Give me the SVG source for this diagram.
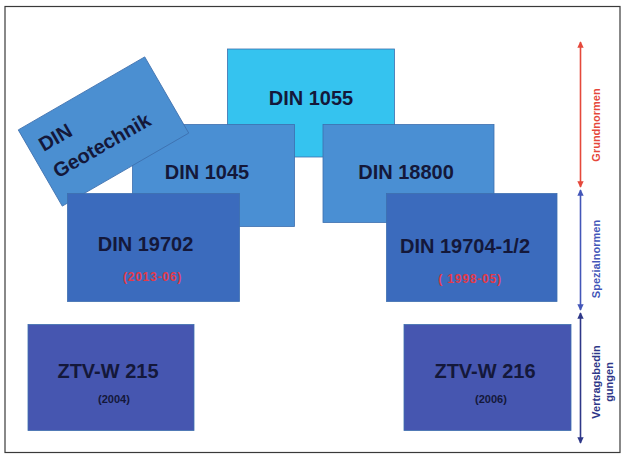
<svg xmlns="http://www.w3.org/2000/svg" width="624" height="455" viewBox="0 0 624 455">
<defs>
<style>
.t{font-family:"Liberation Sans",Arial,sans-serif;font-weight:bold;fill:#14183a}
.big{font-size:20px;text-anchor:middle}
.small{font-size:11px;text-anchor:middle}
.red{font-family:"Liberation Sans",Arial,sans-serif;font-weight:bold;font-size:12px;letter-spacing:0.8px;fill:#e23a4a;text-anchor:middle}
.box{stroke:#3d6fae;stroke-width:0.8}
.lab{font-family:"Liberation Sans",Arial,sans-serif;font-weight:bold;font-size:11px;text-anchor:middle}
</style>
<marker id="ar" viewBox="0 0 10 10" refX="9" refY="5" markerWidth="4" markerHeight="4" orient="auto-start-reverse" markerUnits="strokeWidth"><path d="M0,0 L10,5 L0,10 z" fill="#e5483b"/></marker>
<marker id="ab" viewBox="0 0 10 10" refX="9" refY="5" markerWidth="4" markerHeight="4" orient="auto-start-reverse" markerUnits="strokeWidth"><path d="M0,0 L10,5 L0,10 z" fill="#4356b8"/></marker>
<marker id="an" viewBox="0 0 10 10" refX="9" refY="5" markerWidth="4" markerHeight="4" orient="auto-start-reverse" markerUnits="strokeWidth"><path d="M0,0 L10,5 L0,10 z" fill="#2e3788"/></marker>
</defs>
<rect x="0" y="0" width="624" height="455" fill="#ffffff"/>
<rect x="5" y="6.5" width="615" height="446" fill="none" stroke="#3a3a3a" stroke-width="1.2"/>

<g id="din1055">
<rect class="box" x="227.5" y="49" width="167" height="108" fill="#35c3ef" stroke="#3aa8d8"/>
<text class="t big" x="311" y="105">DIN 1055</text>
</g>
<g id="din1045">
<rect class="box" x="132.5" y="124.5" width="162" height="102" fill="#4a8fd3"/>
<text class="t big" x="207" y="179">DIN 1045</text>
</g>
<g id="din18800">
<rect class="box" x="323" y="124.5" width="171" height="98" fill="#4a8fd3"/>
<text class="t big" x="406" y="179">DIN 18800</text>
</g>
<g id="dingeotechnik" transform="translate(103.5,131.5) rotate(-30)">
<rect class="box" x="-73" y="-44" width="146" height="88" fill="#4b8fd1"/>
<text class="t" x="-62" y="-12" font-size="20">DIN</text>
<text class="t" x="-63" y="18" font-size="20">Geotechnik</text>
</g>
<g id="din19702">
<rect class="box" x="67.5" y="193.5" width="172" height="108" fill="#3b6bbd" stroke="#34599e"/>
<text class="t big" x="145.5" y="251">DIN 19702</text>
<text class="red" x="152.5" y="281">(2013-06)</text>
</g>
<g id="din19704">
<rect class="box" x="386.5" y="193.5" width="170.5" height="108" fill="#3b6bbd" stroke="#34599e"/>
<text class="t big" x="465" y="253">DIN 19704-1/2</text>
<text class="red" x="470" y="283">( 1998-05)</text>
</g>
<g id="ztvw215">
<rect class="box" x="28" y="324.5" width="166" height="106" fill="#4656b0" stroke="#3b4a99"/>
<text class="t big" x="108" y="378">ZTV-W 215</text>
<text class="t small" x="114" y="403">(2004)</text>
</g>
<g id="ztvw216">
<rect class="box" x="404" y="324.5" width="167" height="106" fill="#4656b0" stroke="#3b4a99"/>
<text class="t big" x="485" y="378">ZTV-W 216</text>
<text class="t small" x="491" y="403">(2006)</text>
</g>

<g id="connectors">
<line x1="580.5" y1="42" x2="580.5" y2="187" stroke="#e5483b" stroke-width="1.6" marker-start="url(#ar)" marker-end="url(#ar)"/>
<line x1="580.5" y1="190" x2="580.5" y2="310" stroke="#4356b8" stroke-width="1.6" marker-start="url(#ab)" marker-end="url(#ab)"/>
<line x1="580.5" y1="313" x2="580.5" y2="443" stroke="#2e3788" stroke-width="1.6" marker-start="url(#an)" marker-end="url(#an)"/>
</g>

<g id="labels">
<text class="lab" fill="#e5483b" transform="translate(600,125) rotate(-90)">Grundnormen</text>
<text class="lab" fill="#4356b8" transform="translate(600,259) rotate(-90)">Spezialnormen</text>
<text class="lab" fill="#2e3788" transform="translate(599.5,382) rotate(-90)">Vertragsbedin</text>
<text class="lab" fill="#2e3788" transform="translate(612.5,382) rotate(-90)">gungen</text>
</g>
</svg>
